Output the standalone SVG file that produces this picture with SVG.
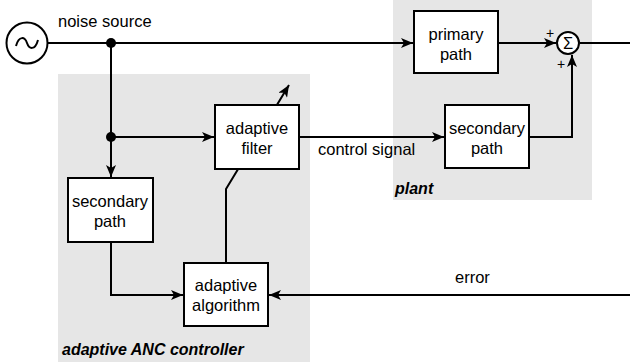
<svg xmlns="http://www.w3.org/2000/svg" width="630" height="362" viewBox="0 0 630 362">
  <style>
    .region { fill: #e6e6e6; stroke: none; }
    .box { fill: #ffffff; stroke: #000000; stroke-width: 2; }
    .wire { fill: none; stroke: #000000; stroke-width: 2; }
    .lbl { font-family: "Liberation Sans", Arial, sans-serif; font-size: 16.5px; fill: #000000; }
    .ttl { font-family: "Liberation Sans", Arial, sans-serif; font-size: 16px; font-weight: bold; font-style: italic; fill: #000000; }
    .sgn { font-family: "Liberation Sans", Arial, sans-serif; font-size: 14px; fill: #000000; }
  </style>
  <defs>
    <marker id="arrow" viewBox="0 0 12 10" refX="12" refY="5" markerWidth="12" markerHeight="10" markerUnits="userSpaceOnUse" orient="auto">
      <path d="M0,0 L12,5 L0,10 L3,5 Z" fill="#000000"/>
    </marker>
  </defs>

  <!-- shaded regions -->
  <rect id="controller-region" class="region" x="58" y="74" width="252" height="288"/>
  <rect id="plant-region" class="region" x="393" y="0" width="199" height="200"/>
  <text class="ttl" x="62" y="355">adaptive ANC controller</text>
  <text class="ttl" x="395" y="194">plant</text>

  <!-- connectors -->
  <g id="connectors">
    <path class="wire" d="M48,43 H413" marker-end="url(#arrow)"/>
    <path class="wire" d="M111,43 V177" marker-end="url(#arrow)"/>
    <path class="wire" d="M111,137 H214" marker-end="url(#arrow)"/>
    <path class="wire" d="M299,137 H444" marker-end="url(#arrow)"/>
    <path class="wire" d="M498,43 H556" marker-end="url(#arrow)"/>
    <path class="wire" d="M529,137 H572 V55" marker-end="url(#arrow)"/>
    <path class="wire" d="M580,43 H630"/>
    <path class="wire" d="M111,242 V295 H183" marker-end="url(#arrow)"/>
    <path class="wire" d="M630,295 H269" marker-end="url(#arrow)"/>
    <path class="wire" d="M226,263 V189 L289,85" marker-end="url(#arrow)"/>
    <circle cx="111" cy="43" r="5" fill="#000000"/>
    <circle cx="111" cy="137" r="5" fill="#000000"/>
    <text class="lbl" x="318" y="155">control signal</text>
    <text class="lbl" x="455" y="283">error</text>
    <text class="sgn" x="546" y="38">+</text>
    <text class="sgn" x="557" y="69">+</text>
  </g>

  <!-- noise source -->
  <g id="noise-source">
    <circle class="box" cx="27" cy="43" r="20.5"/>
    <path class="wire" d="M16,46 C19,35 25,37 27,43 C29,49 35,51 38,40"/>
    <text class="lbl" x="58" y="27">noise source</text>
  </g>

  <!-- plant blocks -->
  <g id="primary-path">
    <rect class="box" x="414" y="11" width="84" height="62"/>
    <text class="lbl" x="456" y="40" text-anchor="middle">primary</text>
    <text class="lbl" x="456" y="60" text-anchor="middle">path</text>
  </g>
  <g id="secondary-path-plant">
    <rect class="box" x="445" y="105" width="84" height="63"/>
    <text class="lbl" x="487" y="134" text-anchor="middle">secondary</text>
    <text class="lbl" x="487" y="154" text-anchor="middle">path</text>
  </g>
  <g id="summing-junction">
    <circle class="box" cx="568" cy="43" r="11"/>
    <text class="lbl" x="568" y="49" text-anchor="middle">Σ</text>
  </g>

  <!-- controller blocks -->
  <g id="adaptive-filter">
    <rect class="box" x="215" y="105" width="84" height="64"/>
    <text class="lbl" x="257" y="134" text-anchor="middle">adaptive</text>
    <text class="lbl" x="257" y="154" text-anchor="middle">filter</text>
  </g>
  <g id="secondary-path-model">
    <rect class="box" x="68" y="178" width="85" height="64"/>
    <text class="lbl" x="110" y="207" text-anchor="middle">secondary</text>
    <text class="lbl" x="110" y="227" text-anchor="middle">path</text>
  </g>
  <g id="adaptive-algorithm">
    <rect class="box" x="184" y="263" width="84" height="63"/>
    <text class="lbl" x="226" y="291" text-anchor="middle">adaptive</text>
    <text class="lbl" x="226" y="311" text-anchor="middle">algorithm</text>
  </g>
</svg>
